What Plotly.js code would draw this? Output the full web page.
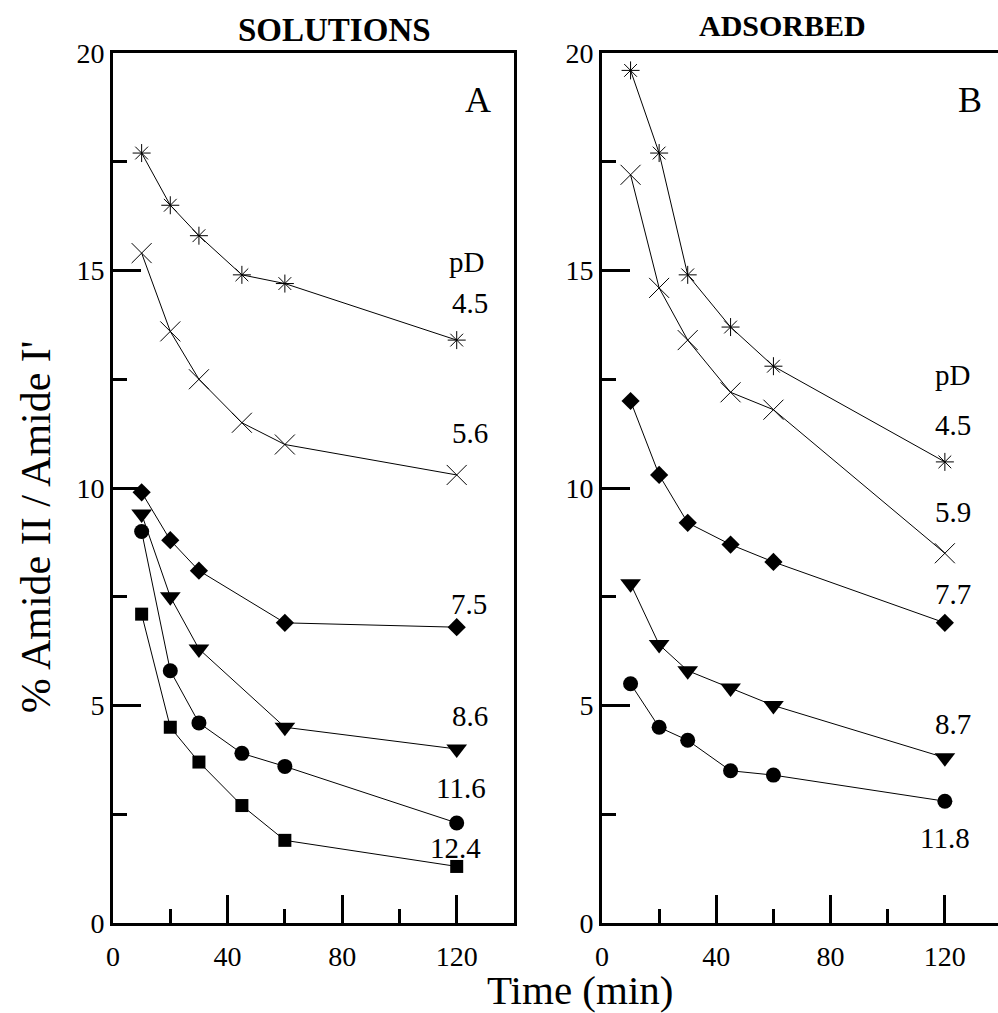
<!DOCTYPE html>
<html>
<head>
<meta charset="utf-8">
<script src="https://cdn.plot.ly/plotly-3.0.1.min.js"></script>
<style>
html,body{margin:0;padding:0;overflow:hidden;background:#fff;}
#chart{width:1010px;height:1013px;}
</style>
</head>
<body>
<div id="chart"></div>
<script>
// ---- data ----
const timeFull = [10, 20, 30, 45, 60, 120];
const timeShort = [10, 20, 30, 60, 120];

// Panel A: solutions
const solPD45 = [17.7, 16.5, 15.8, 14.9, 14.7, 13.4];
const solPD56 = [15.4, 13.6, 12.5, 11.5, 11.0, 10.3];
const solPD75 = [9.9, 8.8, 8.1, 6.9, 6.8];       // timeShort
const solPD86 = [9.4, 7.5, 6.3, 4.5, 4.0];       // timeShort
const solPD116 = [9.0, 5.8, 4.6, 3.9, 3.6, 2.3];
const solPD124 = [7.1, 4.5, 3.7, 2.7, 1.9, 1.3];

// Panel B: adsorbed
const adsPD45 = [19.6, 17.7, 14.9, 13.7, 12.8, 10.6];
const adsPD59 = [17.2, 14.6, 13.4, 12.2, 11.8, 8.5];
const adsPD77 = [12.0, 10.3, 9.2, 8.7, 8.3, 6.9];
const adsPD87 = [7.8, 6.4, 5.8, 5.4, 5.0, 3.8];
const adsPD118 = [5.5, 4.5, 4.2, 3.5, 3.4, 2.8];

const xTickVals = [0, 40, 80, 120];
const yTickVals = [0, 5, 10, 15, 20];

// ---- styling ----
const FONT = "Liberation Serif";
const markerStyles = {
  asterisk: {symbol: "asterisk-open", size: 15, color: "#000", line: {color: "#000", width: 1}},
  cross:    {symbol: "x-thin-open", size: 20, color: "#000", line: {color: "#000", width: 1}},
  diamond:  {symbol: "diamond", size: 14, color: "#000"},
  tri:      {symbol: "triangle-down", size: 18, color: "#000"},
  circle:   {symbol: "circle", size: 15, color: "#000"},
  square:   {symbol: "square", size: 13, color: "#000"}
};

function tr(x, y, m, xa, ya) {
  return {x: x, y: y, xaxis: xa, yaxis: ya, type: "scatter", mode: "lines+markers",
          line: {color: "#000", width: 1}, marker: markerStyles[m], showlegend: false, hoverinfo: "skip", cliponaxis: false};
}

const data = [
  tr(timeFull, solPD45, "asterisk", "x", "y"),
  tr(timeFull, solPD56, "cross", "x", "y"),
  tr(timeShort, solPD75, "diamond", "x", "y"),
  tr(timeShort, solPD86, "tri", "x", "y"),
  tr(timeFull, solPD116, "circle", "x", "y"),
  tr(timeFull, solPD124, "square", "x", "y"),
  tr(timeFull, adsPD45, "asterisk", "x2", "y2"),
  tr(timeFull, adsPD59, "cross", "x2", "y2"),
  tr(timeFull, adsPD77, "diamond", "x2", "y2"),
  tr(timeFull, adsPD87, "tri", "x2", "y2"),
  tr(timeFull, adsPD118, "circle", "x2", "y2")
];

function xax(domain, anchor) {
  return {domain: domain, anchor: anchor, range: [0, 140], showgrid: false, zeroline: false,
    showline: true, linecolor: "#000", linewidth: 3, mirror: true,
    ticks: "inside", ticklen: 28, tickwidth: 3, tickcolor: "#000",
    tickvals: xTickVals, ticktext: xTickVals.map(String),
    minor: {ticks: "inside", ticklen: 14, tickwidth: 3, tickcolor: "#000", dtick: 20, tick0: 0, showgrid: false},
    tickfont: {family: FONT, size: 28, color: "#000"}, ticklabelstandoff: 6, fixedrange: true};
}
function yax(anchor) {
  return {domain: [0, 1], anchor: anchor, range: [0, 20], showgrid: false, zeroline: false,
    showline: true, linecolor: "#000", linewidth: 3, mirror: true,
    ticks: "inside", ticklen: 28, tickwidth: 3, tickcolor: "#000",
    tickvals: yTickVals, ticktext: yTickVals.map(String),
    minor: {ticks: "inside", ticklen: 14, tickwidth: 3, tickcolor: "#000", dtick: 2.5, tick0: 0, showgrid: false},
    tickfont: {family: FONT, size: 28, color: "#000"}, fixedrange: true};
}

function lab(text, x, y, xr, yr, size) {
  return {text: text, x: x, y: y, xref: xr, yref: yr, showarrow: false,
          xanchor: "center", yanchor: "middle", font: {family: FONT, size: size || 29, color: "#000"}};
}

const annotations = [
  {text: "<b>SOLUTIONS</b>", x: 77.2, y: 1.0264, xref: "x", yref: "paper", showarrow: false,
   xanchor: "center", yanchor: "middle", font: {family: FONT, size: 33, color: "#000"}},
  {text: "<b>ADSORBED</b>", x: 63, y: 1.032, xref: "x2", yref: "paper", showarrow: false,
   xanchor: "center", yanchor: "middle", font: {family: FONT, size: 30, color: "#000"}},
  {text: "Time (min)", x: 0.525, y: -0.0775, xref: "paper", yref: "paper", showarrow: false,
   xanchor: "center", yanchor: "middle", font: {family: FONT, size: 41, color: "#000"}},
  {text: "% Amide II / Amide I'", x: -0.0865, y: 0.455, xref: "paper", yref: "paper", showarrow: false,
   textangle: -90, xanchor: "center", yanchor: "middle", font: {family: FONT, size: 42, color: "#000"}},
  lab("A", 127.5, 18.92, "x", "y", 36),
  lab("pD", 123.3, 15.2, "x", "y"),
  lab("4.5", 124.7, 14.25, "x", "y"),
  lab("5.6", 124.7, 11.26, "x", "y"),
  lab("7.5", 124.4, 7.33, "x", "y"),
  lab("8.6", 124.7, 4.76, "x", "y"),
  lab("11.6", 121.6, 3.10, "x", "y"),
  lab("12.4", 119.5, 1.72, "x", "y"),
  lab("B", 128.7, 18.92, "x2", "y2", 36),
  lab("pD", 122.7, 12.6, "x2", "y2"),
  lab("4.5", 122.7, 11.45, "x2", "y2"),
  lab("5.9", 122.7, 9.45, "x2", "y2"),
  lab("7.7", 122.7, 7.56, "x2", "y2"),
  lab("8.7", 122.7, 4.57, "x2", "y2"),
  lab("11.8", 119.9, 1.95, "x2", "y2")
];

const layout = {
  width: 1010, height: 1013,
  margin: {l: 113, r: 8, t: 53, b: 90, pad: 0},
  paper_bgcolor: "#fff", plot_bgcolor: "#fff",
  showlegend: false,
  xaxis: xax([0, 401 / 889], "y"),
  yaxis: yax("x"),
  xaxis2: xax([489 / 889, 1], "y2"),
  yaxis2: yax("x2"),
  annotations: annotations,
  font: {family: FONT, color: "#000"}
};

Plotly.newPlot("chart", data, layout, {staticPlot: true, displayModeBar: false});
</script>
</body>
</html>
